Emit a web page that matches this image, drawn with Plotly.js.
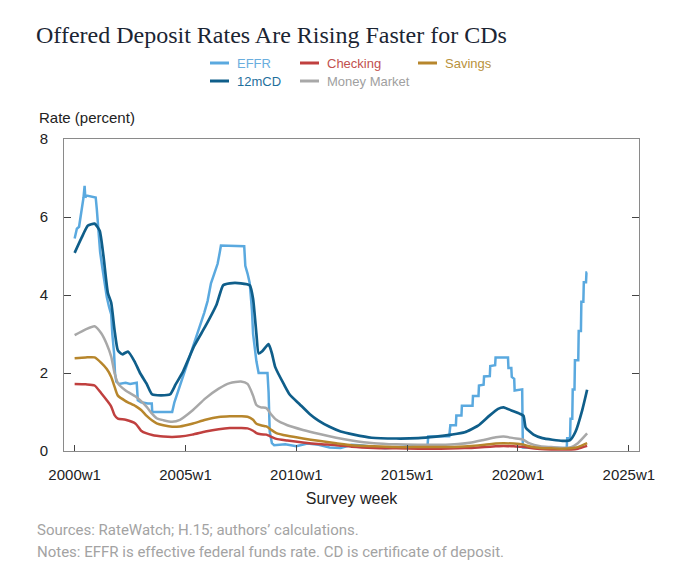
<!DOCTYPE html>
<html>
<head>
<meta charset="utf-8">
<script src="https://cdn.plot.ly/plotly-3.0.1.min.js"></script>
<style>html,body{margin:0;padding:0;background:#fff;}#chart{width:700px;height:584px;}</style>
</head>
<body>
<div id="chart"></div>
<script>
// ---------- DATA ----------
const tickYears = [2000, 2005, 2010, 2015, 2020, 2025];
const tickLabels = ["2000w1", "2005w1", "2010w1", "2015w1", "2020w1", "2025w1"];
const yTicks = [0, 2, 4, 6, 8];

const effrYears = [2000.0, 2000.05, 2000.1, 2000.2, 2000.25, 2000.35, 2000.4, 2000.45, 2000.48, 2000.55, 2000.95, 2001.0, 2001.05, 2001.1, 2001.15, 2001.25, 2001.35, 2001.45, 2001.55, 2001.65, 2001.7, 2001.78, 2001.82, 2001.88, 2002.0, 2002.3, 2002.5, 2002.8, 2002.85, 2003.0, 2003.3, 2003.48, 2003.5, 2004.4, 2004.5, 2004.65, 2004.8, 2004.95, 2005.1, 2005.25, 2005.4, 2005.55, 2005.7, 2005.85, 2006.0, 2006.15, 2006.3, 2006.45, 2006.55, 2006.6, 2007.65, 2007.7, 2007.8, 2007.9, 2008.0, 2008.05, 2008.2, 2008.3, 2008.7, 2008.75, 2008.8, 2008.9, 2009.0, 2009.5, 2010.0, 2010.5, 2011.0, 2011.5, 2012.0, 2012.5, 2013.0, 2013.5, 2014.0, 2014.5, 2015.0, 2015.5, 2015.92, 2015.95, 2016.9, 2016.95, 2017.2, 2017.22, 2017.45, 2017.47, 2017.95, 2017.97, 2018.22, 2018.24, 2018.45, 2018.47, 2018.73, 2018.75, 2018.97, 2018.99, 2019.55, 2019.57, 2019.7, 2019.72, 2019.83, 2019.85, 2020.19, 2020.22, 2022.2, 2022.22, 2022.35, 2022.37, 2022.45, 2022.47, 2022.55, 2022.57, 2022.72, 2022.74, 2022.84, 2022.86, 2022.95, 2022.97, 2023.07, 2023.09, 2023.12];
const effrRates = [5.45, 5.6, 5.7, 5.75, 5.95, 6.25, 6.5, 6.8, 6.5, 6.55, 6.5, 6.2, 5.9, 5.5, 5.1, 4.7, 4.3, 3.95, 3.7, 3.5, 3.0, 2.5, 2.0, 1.78, 1.72, 1.75, 1.72, 1.75, 1.3, 1.25, 1.22, 1.22, 1.0, 1.0, 1.25, 1.5, 1.75, 2.0, 2.3, 2.55, 2.8, 3.05, 3.3, 3.55, 3.85, 4.3, 4.55, 4.8, 5.1, 5.27, 5.25, 4.75, 4.55, 4.3, 3.6, 3.0, 2.3, 2.0, 2.0, 1.5, 0.5, 0.2, 0.15, 0.17, 0.12, 0.19, 0.16, 0.09, 0.08, 0.16, 0.14, 0.1, 0.07, 0.09, 0.12, 0.13, 0.13, 0.37, 0.38, 0.66, 0.66, 0.91, 0.91, 1.16, 1.16, 1.41, 1.41, 1.68, 1.7, 1.91, 1.92, 2.18, 2.2, 2.4, 2.4, 2.13, 2.13, 1.9, 1.85, 1.55, 1.58, 0.09, 0.08, 0.33, 0.33, 0.83, 0.83, 1.58, 1.58, 2.33, 2.33, 3.08, 3.08, 3.83, 3.83, 4.33, 4.33, 4.58, 4.58];

const cdYears = [2000.0, 2000.3, 2000.6, 2000.9, 2001.13, 2001.3, 2001.5, 2001.65, 2001.8, 2001.95, 2002.15, 2002.4, 2002.7, 2002.95, 2003.25, 2003.5, 2004.3, 2004.55, 2004.9, 2005.4, 2005.9, 2006.4, 2006.7, 2007.0, 2007.5, 2007.9, 2008.05, 2008.2, 2008.3, 2008.45, 2008.75, 2008.9, 2009.05, 2009.45, 2009.7, 2010.15, 2010.6, 2011.0, 2011.5, 2012.0, 2012.6, 2013.4, 2014.5, 2015.5, 2016.3, 2017.0, 2017.6, 2018.2, 2018.7, 2019.1, 2019.35, 2019.7, 2020.1, 2020.25, 2020.35, 2020.7, 2021.1, 2022.0, 2022.35, 2022.6, 2022.9, 2023.12];
const cdRates = [5.08, 5.45, 5.78, 5.83, 5.65, 5.0, 4.05, 3.8, 3.1, 2.58, 2.48, 2.55, 2.3, 2.0, 1.72, 1.45, 1.45, 1.7, 2.05, 2.7, 3.2, 3.75, 4.25, 4.3, 4.3, 4.25, 3.9, 3.0, 2.5, 2.55, 2.74, 2.5, 2.15, 1.7, 1.45, 1.2, 0.95, 0.78, 0.62, 0.5, 0.42, 0.34, 0.32, 0.33, 0.37, 0.42, 0.48, 0.65, 0.9, 1.08, 1.12, 1.04, 0.95, 0.9, 0.6, 0.42, 0.33, 0.26, 0.28, 0.5, 1.05, 1.57];

const depositYears = [2000.0, 2000.5, 2000.9, 2001.2, 2001.45, 2001.65, 2001.8, 2001.95, 2002.3, 2002.75, 2003.0, 2003.25, 2003.5, 2003.7, 2004.0, 2004.4, 2004.75, 2005.3, 2005.9, 2006.5, 2007.0, 2007.5, 2007.8, 2008.05, 2008.2, 2008.4, 2008.65, 2008.85, 2009.1, 2009.6, 2010.3, 2011.0, 2011.8, 2012.5, 2013.5, 2014.5, 2015.5, 2016.5, 2017.3, 2017.9, 2018.5, 2019.0, 2019.35, 2019.8, 2020.2, 2020.5, 2021.0, 2021.5, 2022.0, 2022.4, 2022.7, 2023.12];
const moneyMarketRates = [2.97, 3.12, 3.2, 3.02, 2.74, 2.42, 2.0, 1.74, 1.55, 1.4, 1.28, 1.13, 0.95, 0.84, 0.79, 0.75, 0.8, 1.03, 1.35, 1.6, 1.74, 1.78, 1.72, 1.42, 1.18, 1.12, 1.1, 0.95, 0.8, 0.66, 0.54, 0.44, 0.34, 0.27, 0.2, 0.17, 0.16, 0.16, 0.18, 0.22, 0.29, 0.35, 0.37, 0.33, 0.3, 0.2, 0.12, 0.1, 0.08, 0.1, 0.2, 0.45];
const savingsRates = [2.38, 2.4, 2.4, 2.26, 2.1, 1.9, 1.65, 1.42, 1.28, 1.15, 1.05, 0.9, 0.78, 0.71, 0.66, 0.62, 0.63, 0.7, 0.8, 0.87, 0.89, 0.89, 0.88, 0.8, 0.7, 0.66, 0.63, 0.55, 0.46, 0.39, 0.32, 0.26, 0.2, 0.15, 0.12, 0.1, 0.1, 0.1, 0.11, 0.13, 0.16, 0.19, 0.2, 0.19, 0.17, 0.12, 0.08, 0.07, 0.06, 0.07, 0.1, 0.2];
const checkingRates = [1.72, 1.71, 1.68, 1.48, 1.3, 1.14, 0.92, 0.83, 0.8, 0.7, 0.52, 0.45, 0.41, 0.39, 0.37, 0.36, 0.37, 0.42, 0.5, 0.56, 0.59, 0.59, 0.58, 0.52, 0.46, 0.43, 0.42, 0.37, 0.31, 0.27, 0.22, 0.18, 0.15, 0.11, 0.08, 0.07, 0.06, 0.06, 0.07, 0.08, 0.1, 0.12, 0.13, 0.12, 0.11, 0.08, 0.05, 0.04, 0.04, 0.04, 0.06, 0.13];

const seriesNames = ["EFFR", "Checking", "Savings", "12mCD", "Money Market"];
// ------------------------------------------------------------

const COL = {
  EFFR: "#5aa9df",
  Checking: "#c0403f",
  Savings: "#b7862c",
  CD: "#0f5e8a",
  MM: "#a8a8a8"
};
const TXT = {
  EFFR: "#6aaede",
  Checking: "#c2504e",
  Savings: "#b9923c",
  CD: "#1f6f9c",
  MM: "#a0a0a0"
};

const traces = [
  {x: effrYears, y: effrRates, name: seriesNames[0], mode: "lines", line: {color: COL.EFFR, width: 2.5}},
  {x: depositYears, y: moneyMarketRates, name: seriesNames[4], mode: "lines", line: {color: COL.MM, width: 2.5, shape: "spline", smoothing: 0.6}},
  {x: depositYears, y: checkingRates, name: seriesNames[1], mode: "lines", line: {color: COL.Checking, width: 2.5, shape: "spline", smoothing: 0.6}},
  {x: depositYears, y: savingsRates, name: seriesNames[2], mode: "lines", line: {color: COL.Savings, width: 2.5, shape: "spline", smoothing: 0.6}},
  {x: cdYears, y: cdRates, name: seriesNames[3], mode: "lines", line: {color: COL.CD, width: 2.7, shape: "spline", smoothing: 0.5}}
];

// plot area in pixels: x 64..639, y 139..451
const L = 64, R = 639, T = 139, B = 451;
const W = R - L, H = B - T;
const px = v => (v - L) / W;
const py = v => (B - v) / H;

const legendItems = [
  {name: seriesNames[0], col: COL.EFFR, txt: TXT.EFFR, x: 210, y: 63},
  {name: seriesNames[1], col: COL.Checking, txt: TXT.Checking, x: 300, y: 63},
  {name: seriesNames[2], col: COL.Savings, txt: TXT.Savings, x: 418, y: 63},
  {name: seriesNames[3], col: COL.CD, txt: TXT.CD, x: 210, y: 81},
  {name: seriesNames[4], col: COL.MM, txt: TXT.MM, x: 300, y: 81}
];

const shapes = legendItems.map(it => ({
  type: "line", xref: "paper", yref: "paper",
  x0: px(it.x), x1: px(it.x + 19), y0: py(it.y), y1: py(it.y),
  line: {color: it.col, width: 3}
}));

const annotations = legendItems.map(it => ({
  xref: "paper", yref: "paper", x: px(it.x + 25), y: py(it.y),
  xanchor: "left", yanchor: "middle", showarrow: false,
  text: it.name, font: {family: "Liberation Sans, Arial, sans-serif", size: 13, color: it.txt}
}));

annotations.push(
  {xref: "paper", yref: "paper", x: px(37), y: py(117), xanchor: "left", yanchor: "middle", showarrow: false,
   text: "Rate (percent)", font: {family: "Liberation Sans, Arial, sans-serif", size: 15, color: "#222"}},
  {xref: "paper", yref: "paper", x: px(35), y: py(530), xanchor: "left", yanchor: "middle", showarrow: false,
   text: "Sources: RateWatch; H.15; authors’ calculations.", font: {family: "Liberation Sans Narrow, Roboto, sans-serif", size: 15, color: "#a3a3a3"}},
  {xref: "paper", yref: "paper", x: px(35), y: py(552), xanchor: "left", yanchor: "middle", showarrow: false,
   text: "Notes: EFFR is effective federal funds rate. CD is certificate of deposit.", font: {family: "Liberation Sans Narrow, Roboto, sans-serif", size: 15, color: "#a3a3a3"}}
);

const layout = {
  width: 700, height: 584,
  margin: {l: L, r: 700 - R, t: T, b: 584 - B, pad: 0},
  paper_bgcolor: "#fff", plot_bgcolor: "#fff",
  showlegend: false,
  title: {
    text: "Offered Deposit Rates Are Rising Faster for CDs",
    font: {family: "Liberation Serif, Georgia, serif", size: 24, color: "#1b2533"},
    xref: "container", x: 36 / 700, xanchor: "left",
    yref: "container", y: 1 - 35 / 584, yanchor: "middle"
  },
  xaxis: {
    range: [1999.52, 2025.46],
    tickmode: "array", tickvals: tickYears, ticktext: tickLabels,
    ticks: "inside", ticklen: 6, tickcolor: "#444", tickwidth: 1,
    showline: true, linecolor: "#8a8a8a", linewidth: 1, mirror: true,
    showgrid: false, zeroline: false,
    tickfont: {family: "Liberation Sans, Arial, sans-serif", size: 15, color: "#222"},
    ticklabelstandoff: 10,
    title: {text: "Survey week", font: {family: "Liberation Sans, Arial, sans-serif", size: 16, color: "#222"}, standoff: 10}
  },
  yaxis: {
    range: [0, 8],
    tickmode: "array", tickvals: yTicks,
    ticks: "inside", ticklen: 7, tickcolor: "#444", tickwidth: 1,
    showline: true, linecolor: "#8a8a8a", linewidth: 1, mirror: "ticks",
    showgrid: false, zeroline: false,
    tickfont: {family: "Liberation Sans, Arial, sans-serif", size: 15, color: "#222"},
    ticklabelstandoff: 12
  },
  shapes: shapes,
  annotations: annotations
};

Plotly.newPlot("chart", traces, layout, {displayModeBar: false, staticPlot: true});
</script>
</body>
</html>
